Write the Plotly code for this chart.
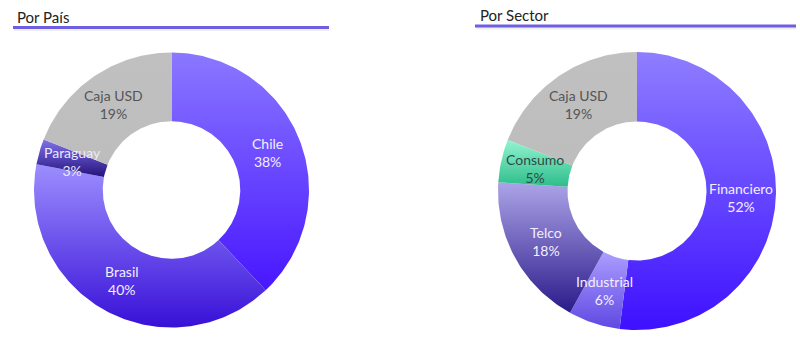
import numpy as np
import plotly.graph_objects as go

# Portfolio breakdowns (percent)
pais_labels = ["Chile", "Brasil", "Paraguay", "Caja USD"]
pais_values = [38, 40, 3, 19]

sector_labels = ["Financiero", "Industrial", "Telco", "Consumo", "Caja USD"]
sector_values = [52, 6, 18, 5, 19]

titles = ["Por País", "Por Sector"]

# Slice fills: vertical gradient (top colour, bottom colour) per slice
pais_fills = [("#8a78ff", "#4816ff"), ("#9c8efe", "#3810d8"),
              ("#8072ec", "#24127c"), ("#c0c0c0", "#bdbdbd")]
pais_text = ["#f2efff", "#f2efff", "#ece8ff", "#555555"]
sector_fills = [("#8e7eff", "#3e10ff"), ("#aa9eff", "#5f48e2"),
                ("#aca4e8", "#2a1a8a"), ("#92f4d2", "#2ebd8a"),
                ("#c0c0c0", "#bdbdbd")]
sector_text = ["#f2efff", "#f2efff", "#f2efff", "#2f4a44", "#555555"]

W, H = 800, 337
HOLE = 0.5
FONT = "Lato"
ACCENT = "#6f5fe0"

fig = go.Figure()
annotations = []


def add_donut(labels, values, fills, text_colors, cx, cy, r):
    """Ring slices drawn on a pixel-unit x/y axis, clockwise from 12 o'clock."""
    total = float(sum(values))
    bounds = np.concatenate([[0.0], np.cumsum(values)]) / total * 2 * np.pi
    r_in = r * HOLE
    r_text = r * (1 + HOLE) / 2
    for i, (lab, val) in enumerate(zip(labels, values)):
        a0, a1 = bounds[i], bounds[i + 1]
        n = max(8, int(np.ceil((a1 - a0) / (2 * np.pi) * 360)))
        ang = np.linspace(a0, a1, n)
        xs = np.concatenate([cx + r * np.sin(ang), cx + r_in * np.sin(ang[::-1])])
        ys = np.concatenate([cy - r * np.cos(ang), cy - r_in * np.cos(ang[::-1])])
        top, bottom = fills[i]
        # gradient runs from the bottom of the slice (0) to its top (1) on screen
        fig.add_trace(go.Scatter(
            x=np.append(xs, xs[0]), y=np.append(ys, ys[0]),
            mode="lines", fill="toself",
            line=dict(width=0.6, color=top if top == bottom else "rgba(0,0,0,0)"),
            fillcolor=top,
            fillgradient=dict(type="vertical", colorscale=[[0, bottom], [1, top]]),
            name=lab, hoveron="fills",
            text=f"{lab}: {val}%", hoverinfo="text",
            showlegend=False,
        ))
        mid = (a0 + a1) / 2
        annotations.append(dict(
            x=cx + r_text * np.sin(mid), y=cy - r_text * np.cos(mid),
            xref="x", yref="y",
            text=f"{lab}<br>{round(val / total * 100)}%",
            showarrow=False, xanchor="center", yanchor="middle",
            font=dict(family=FONT, size=14, color=text_colors[i]),
        ))


add_donut(pais_labels, pais_values, pais_fills, pais_text, 171.5, 190, 137.5)
add_donut(sector_labels, sector_values, sector_fills, sector_text, 637, 191, 139)

# Section headers with underline
headers = [(titles[0], 15, 17, 13, 329, 27.5), (titles[1], 478, 15, 475, 796, 26)]
shapes = []
for text, tx, ty, x0, x1, ly in headers:
    annotations.append(dict(
        x=tx, y=ty, xref="x", yref="y",
        text=text, showarrow=False, xanchor="left", yanchor="middle",
        font=dict(family=FONT, size=15, color="#222222"),
    ))
    shapes.append(dict(type="line", xref="x", yref="y",
                       x0=x0 + 1, x1=x1, y0=ly + 2, y1=ly + 2,
                       line=dict(color="rgba(90,90,90,0.10)", width=3)))
    shapes.append(dict(type="line", xref="x", yref="y",
                       x0=x0, x1=x1, y0=ly, y1=ly,
                       line=dict(color=ACCENT, width=3)))

fig.update_layout(
    width=W, height=H,
    margin=dict(l=0, r=0, t=0, b=0),
    paper_bgcolor="white",
    plot_bgcolor="white",
    xaxis=dict(range=[0, W], visible=False, fixedrange=True, domain=[0, 1]),
    yaxis=dict(range=[H, 0], visible=False, fixedrange=True, domain=[0, 1]),
    annotations=annotations,
    shapes=shapes,
    hovermode="closest",
)

fig.write_html("out.html")
